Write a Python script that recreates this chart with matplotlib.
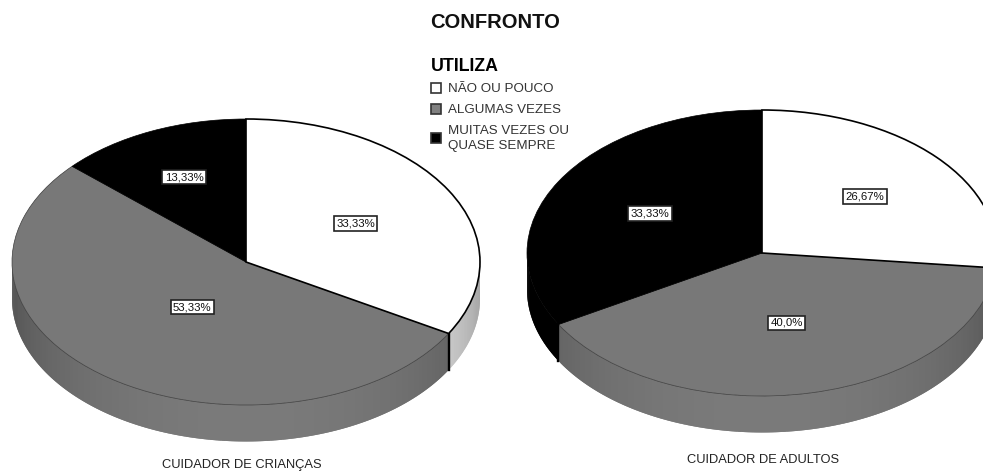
import numpy as np
import matplotlib
matplotlib.use('Agg')
from matplotlib import pyplot as plt
from matplotlib.patches import Patch

categories = ['NÃO OU POUCO', 'ALGUMAS VEZES', 'MUITAS VEZES OU\nQUASE SEMPRE']
colors = ['#ffffff', '#787878', '#000000']
pie_names = ['CUIDADOR DE CRIANÇAS', 'CUIDADOR DE ADULTOS']
values_criancas = [33.33, 53.33, 13.33]
values_adultos = [26.67, 40.0, 33.33]
labels_criancas = ['33,33%', '53,33%', '13,33%']
labels_adultos = ['26,67%', '40,0%', '33,33%']

W, H = 983, 471
plt.rcParams['font.family'] = ['Liberation Sans', 'DejaVu Sans']
fig = plt.figure(figsize=(W / 100, H / 100), dpi=100, facecolor='white')

DEPTH = 0.255
YMIN, YMAX = -1.3, 1.05


def draw_pie(values, labels, cx, cy, rx, ry, label_r, name, name_x, name_y):
    # axes placed so that the unit circle comes out as the ellipse in the picture
    ax = fig.add_axes([(cx - rx) / W, 1 - (cy - YMIN * ry) / H,
                       2 * rx / W, (YMAX - YMIN) * ry / H])
    wedges, _ = ax.pie(values, colors=colors, startangle=90, counterclock=False,
                       normalize=True)
    ax.set_aspect('auto')
    ax.set_xlim(-1, 1)
    ax.set_ylim(YMIN, YMAX)
    ax.patch.set_alpha(0)

    total = sum(values)
    start = 90.0
    for i, v in enumerate(values):
        sweep = v / total * 360
        end = start - sweep
        w = wedges[i]
        if i == 0:
            w.set(edgecolor='black', linewidth=1.2, zorder=3)
        elif i == 1:
            w.set(edgecolor='#3c3c3c', linewidth=0.5, zorder=2)
        else:
            w.set(edgecolor='black', linewidth=0.5, zorder=2)

        # side wall, only the part facing the viewer (180..360 deg)
        base = {0: 0.95, 1: 0.48, 2: 0.0}[i]
        a = end % 360
        b = a + sweep
        lo, hi = max(a, 180), min(b, 360)
        if lo < hi:
            steps = np.arange(lo, hi + 1.0, 1.0)
            steps[-1] = hi
            for t0, t1 in zip(steps[:-1], steps[1:]):
                # each strip runs on under the next one so no seams show
                t = np.radians(np.linspace(t0, min(t1 + 1.0, hi), 4))
                shade = base * (0.65 + 0.35 * -np.sin(np.radians((t0 + t1) / 2)))
                ax.fill_between(np.cos(t), np.sin(t), np.sin(t) - DEPTH,
                                facecolor=str(float(shade)), edgecolor='none',
                                linewidth=0, zorder=1)
        if 180 <= a <= 360:
            ang = np.radians(a)
            ax.plot([np.cos(ang)] * 2, [np.sin(ang), np.sin(ang) - DEPTH],
                    color='black', lw=1.7, zorder=2.5)

        mid = np.radians(start - sweep / 2)
        ax.text(label_r[i] * np.cos(mid), label_r[i] * np.sin(mid), labels[i],
                ha='center', va='center', fontsize=8.2, color='#111111', zorder=5,
                bbox=dict(boxstyle='square,pad=0.2', fc='white', ec='#222222', lw=1.2))
        start = end

    fig.text(name_x / W, 1 - name_y / H, name, ha='center', va='center',
             fontsize=9.3, color='#222222')


draw_pie(values_criancas, labels_criancas, 246, 262, 234, 143,
         [0.54, 0.39, 0.65], pie_names[0], 241.5, 465)
draw_pie(values_adultos, labels_adultos, 762, 253, 235, 143,
         [0.59, 0.50, 0.55], pie_names[1], 763, 460)

fig.text(495.5 / W, 1 - 22 / H, 'CONFRONTO', ha='center', va='center',
         fontsize=14.5, fontweight='bold', color='#111111')

handles = [Patch(facecolor=c, edgecolor='#333333', linewidth=1.2)
           for c in ['#ffffff', '#808080', '#000000']]
leg = fig.legend(handles, categories, loc='upper left',
                 bbox_to_anchor=(428 / W, 1 - 55 / H), frameon=False,
                 title='UTILIZA', alignment='left',
                 prop={'size': 9.6}, labelcolor='#333333',
                 handlelength=0.75, handleheight=0.75, handletextpad=0.55,
                 labelspacing=0.62, borderpad=0.2, borderaxespad=0)
leg.get_title().set_fontsize(12.8)
leg.get_title().set_fontweight('bold')
for t in leg.get_texts():
    t.set_linespacing(1.35)

fig.savefig('out.png', dpi=100)
